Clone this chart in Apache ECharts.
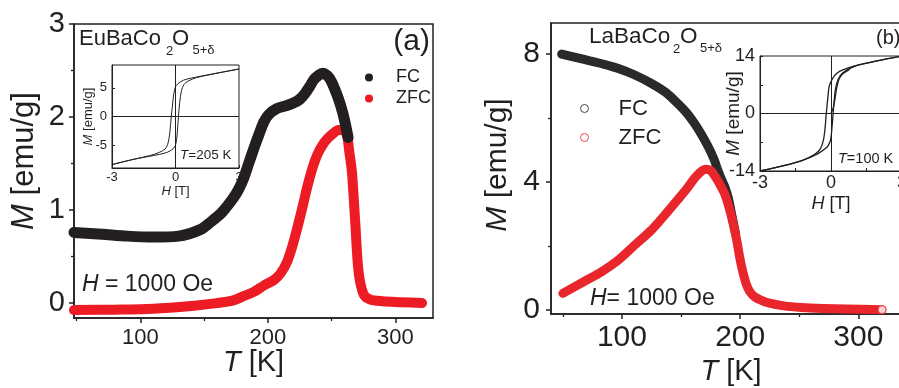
<!DOCTYPE html>
<html>
<head>
<meta charset="utf-8">
<script src="https://cdn.jsdelivr.net/npm/echarts@6/dist/echarts.min.js"></script>
<style>
html, body { margin: 0; padding: 0; background: #fff; }
#chart { width: 899px; height: 388px; }
</style>
</head>
<body>
<div id="chart"></div>
<script>
// panel (a) EuBaCo2O5+d, M(T) at H = 1000 Oe
const fcTa = [48, 70, 90, 110, 130, 147, 156, 163, 168, 173, 177, 181, 185, 189, 193, 197, 201, 207, 214, 220, 225, 229, 233, 236, 240, 243, 247, 250, 254, 257, 260, 263];
const fcMa = [0.76, 0.74, 0.72, 0.71, 0.72, 0.79, 0.88, 0.96, 1.04, 1.13, 1.22, 1.34, 1.5, 1.66, 1.81, 1.95, 2.03, 2.09, 2.12, 2.15, 2.19, 2.25, 2.33, 2.4, 2.45, 2.47, 2.44, 2.38, 2.25, 2.13, 1.98, 1.78];
const zfcTa = [48, 80, 110, 140, 160, 173, 182, 189, 197, 205, 210, 215, 219, 223, 227, 231, 235, 239, 243, 247, 251, 255.5, 259, 262, 264, 266, 268.6, 271.2, 275, 280, 290, 305, 321];
const zfcMa = [-0.075, -0.07, -0.06, -0.03, 0.0, 0.03, 0.08, 0.12, 0.19, 0.25, 0.32, 0.44, 0.6, 0.8, 1.02, 1.25, 1.45, 1.6, 1.7, 1.77, 1.82, 1.86, 1.86, 1.81, 1.62, 1.41, 0.87, 0.34, 0.1, 0.04, 0.02, 0.01, 0.0];
// inset (a): hysteresis at T = 205 K
const loopHa1 = [3, 2, 1, 0.5, 0.25, 0.1, 0, -0.08, -0.14, -0.2, -0.26, -0.35, -0.5, -1, -2, -3];
const loopMa1 = [8.3, 7.6, 6.9, 6.5, 6.1, 5.7, 5.2, 4.0, 2.0, 0, -2.5, -4.6, -5.7, -6.6, -7.5, -8.4];
const loopHa2 = [-3, -2, -1, -0.5, -0.25, -0.1, 0, 0.06, 0.1, 0.15, 0.2, 0.28, 0.4, 0.6, 1, 2, 3];
const loopMa2 = [-8.4, -7.5, -6.8, -6.4, -6.0, -5.6, -5.0, -3.8, -2.0, 0.5, 2.5, 4.5, 5.6, 6.2, 6.8, 7.6, 8.3];

// panel (b) LaBaCo2O5+d
const fcTb = [49, 68, 85, 97, 110, 125, 137, 147, 155, 161, 167, 173, 178, 181, 184, 187, 190, 193, 196];
const fcMb = [8.0, 7.83, 7.68, 7.55, 7.36, 7.08, 6.8, 6.46, 6.15, 5.85, 5.5, 5.1, 4.7, 4.38, 4.1, 3.85, 3.5, 2.95, 2.4];
const zfcTb = [50, 68, 83, 97, 110, 125, 137, 147, 155, 161, 166, 171, 175, 178, 182, 187, 191, 194, 197, 199.5, 202, 205, 208, 212, 218, 223, 237, 252, 270, 290, 320];
const zfcMb = [0.52, 0.89, 1.2, 1.56, 2.0, 2.5, 3.0, 3.44, 3.8, 4.1, 4.3, 4.4, 4.36, 4.22, 3.98, 3.62, 3.15, 2.71, 2.2, 1.67, 1.23, 0.83, 0.58, 0.42, 0.3, 0.23, 0.13, 0.08, 0.05, 0.03, 0.01];
// inset (b): T = 100 K, loop + virgin curve
const loopHb1 = [3, 2, 1, 0.5, 0.25, 0.1, 0, -0.08, -0.14, -0.2, -0.25, -0.32, -0.45, -0.7, -1.2, -2, -3];
const loopMb1 = [14, 12.9, 11.6, 10.6, 9.8, 8.8, 7.8, 6.5, 3.5, 0, -3.5, -6.5, -8.6, -10, -11.4, -12.7, -14];
const loopHb2 = [-3, -2, -1.2, -0.7, -0.45, -0.25, -0.12, -0.02, 0.04, 0.09, 0.14, 0.2, 0.3, 0.5, 1, 2, 3];
const loopMb2 = [-14, -12.7, -11.4, -10.2, -9.4, -8.6, -7.8, -6.5, -3.5, 0, 3.5, 6.3, 8.3, 9.9, 11.5, 12.9, 14];
const virHb = [0, 0.1, 0.18, 0.25, 0.35, 0.5, 0.8];
const virMb = [0, 1.5, 4, 6.5, 8.5, 9.7, 10.8];

// tick labels
const tTicks = [100, 200, 300], tMinor = [50, 150, 250];
const mTicksA = [0, 1, 2, 3], mMinorA = [0.5, 1.5, 2.5];
const mTicksB = [0, 4, 8], mMinorB = [2, 6];
const hTicks = [-3, 0, 3];
const insTicksA = [-5, 0, 5];
const insTicksB = [-14, 0, 14];

const FONT = "'Liberation Sans', Arial, Helvetica, sans-serif";
const INK = '#231f20';
const RED = '#ed1c24';

function zip(a, b) { return a.map((v, i) => [v, b[i]]); }

function axis(grid, min, max, pos, labels, o) {
  const fs = o.nameFs || 14;
  return {
    type: 'value', gridIndex: grid, min: min, max: max, position: pos,
    axisLine: { show: true, onZero: false, lineStyle: { color: INK, width: o.lw } },
    axisTick: { show: true, inside: !!o.inside, length: o.tl, customValues: o.ticks || labels, lineStyle: { color: INK, width: o.lw } },
    axisLabel: { show: true, customValues: labels, margin: o.margin, fontSize: o.fs, color: INK, fontFamily: FONT },
    splitLine: { show: false },
    name: o.name, nameLocation: 'middle', nameGap: o.nameGap, nameMoveOverlap: false,
    nameTextStyle: {
      fontSize: fs, fontFamily: FONT, color: INK, padding: o.namePad || 0,
      rich: { i: { fontStyle: 'italic', fontSize: fs, fontFamily: FONT, color: INK } }
    }
  };
}
function minor(grid, min, max, pos, values) {//only short ticks
  return {
    type: 'value', gridIndex: grid, min: min, max: max, position: pos,
    axisLine: { show: false, onZero: false }, axisLabel: { show: false }, splitLine: { show: false },
    axisTick: { show: true, length: 3, customValues: values, lineStyle: { color: INK, width: 1.3 } }
  };
}
function txt(x, y, text, fs, align) {
  return {
    type: 'text', x: x, y: y, silent: true,
    style: {
      text: text, fontSize: fs, fontFamily: FONT, fill: INK, align: align || 'left', verticalAlign: 'middle',
      rich: { i: { fontStyle: 'italic', fontSize: fs, fontFamily: FONT, fill: INK } }
    }
  };
}

const chart = echarts.init(document.getElementById('chart'));
const option = {
  animation: false,
  backgroundColor: '#fff',
  grid: [
    { left: 74, top: 24, width: 359, height: 294, show: true, borderColor: INK, borderWidth: 1.5, backgroundColor: 'transparent', outerBoundsMode: 'none' },
    { left: 112, top: 65, width: 127, height: 103, show: true, borderColor: INK, borderWidth: 1, backgroundColor: '#fff', outerBoundsMode: 'none' },
    { left: 551, top: 23, width: 360, height: 291, show: true, borderColor: INK, borderWidth: 1.5, backgroundColor: 'transparent', outerBoundsMode: 'none' },
    { left: 760, top: 56, width: 142, height: 115, show: true, borderColor: INK, borderWidth: 1, backgroundColor: '#fff', outerBoundsMode: 'none' }
  ],
  xAxis: [
    axis(0, 48, 329.6, 'bottom', tTicks, { lw: 1.5, tl: 5, margin: 9, fs: 22, name: '{i|T} [K]', nameGap: 30, nameFs: 29 }),
    minor(0, 48, 329.6, 'bottom', tMinor),
    axis(1, -3, 3, 'bottom', hTicks, { lw: 1, tl: 3, inside: true, margin: 3, fs: 13, name: '{i|H} [T]', nameGap: 17, nameFs: 13 }),
    axis(2, 40, 344.5, 'bottom', tTicks, { lw: 1.5, tl: 5, margin: 9, fs: 30, name: '{i|T} [K]', nameGap: 43, nameFs: 29 }),
    minor(2, 40, 344.5, 'bottom', tMinor),
    axis(3, -3, 3, 'bottom', hTicks, { lw: 1, tl: 3, inside: true, margin: 3, fs: 18, ticks: [-3, -1.5, 0, 1.5, 3], name: '{i|H} [T]', nameGap: 24, nameFs: 18 })
  ],
  yAxis: [
    axis(0, -0.16, 3, 'left', mTicksA, { lw: 1.5, tl: 5, margin: 9, fs: 29, name: '{i|M} [emu/g]', nameGap: 34, nameFs: 31, namePad: [0, 0, 0, 20] }),
    minor(0, -0.16, 3, 'left', mMinorA),
    axis(1, -9, 9, 'left', insTicksA, { lw: 1, tl: 3, inside: true, margin: 5, fs: 13, name: '{i|M} [emu/g]', nameGap: 17, nameFs: 13 }),
    axis(2, -0.125, 8.97, 'left', mTicksB, { lw: 1.5, tl: 5, margin: 11, fs: 30, name: '{i|M} [emu/g]', nameGap: 38, nameFs: 30, namePad: [0, 0, 0, 7] }),
    minor(2, -0.125, 8.97, 'left', mMinorB),
    axis(3, -14, 14, 'left', insTicksB, { lw: 1, tl: 3, inside: true, margin: 5, fs: 18, ticks: [-14, -7, 0, 7, 14], name: '{i|M} [emu/g]', nameGap: 17, nameFs: 19 })
  ],
  legend: [
    {
      orient: 'vertical', left: 360, top: 63.5, itemWidth: 8, itemHeight: 8, itemGap: 3, selectedMode: false,
      formatter: n => n.split('_')[0],
      textStyle: { fontSize: 18, fontFamily: FONT, color: INK, padding: [0, 0, 0, 18] },
      data: [
        { name: 'FC_a', icon: 'circle', itemStyle: { color: INK, borderWidth: 0 } },
        { name: 'ZFC_a', icon: 'circle', itemStyle: { color: RED, borderWidth: 0 } }
      ]
    },
    {
      orient: 'vertical', left: 575, top: 92.5, itemWidth: 8, itemHeight: 8, itemGap: 7, selectedMode: false,
      formatter: n => n.split('_')[0],
      textStyle: { fontSize: 22, fontFamily: FONT, color: INK, padding: [0, 0, 0, 25] },
      data: [
        { name: 'FC_b', icon: 'circle', itemStyle: { color: '#fff', borderColor: '#444', borderWidth: 1 } },
        { name: 'ZFC_b', icon: 'circle', itemStyle: { color: '#fff', borderColor: '#f0464b', borderWidth: 1 } }
      ]
    }
  ],
  series: [
    {
      name: 'ZFC_a', type: 'line', xAxisIndex: 0, yAxisIndex: 0, z: 2, data: zip(zfcTa, zfcMa),
      showSymbol: false, smooth: 0.3, color: RED, itemStyle: { color: RED },
      lineStyle: { color: RED, width: 10, cap: 'round', join: 'round' }
    },
    {
      name: 'FC_a', type: 'line', xAxisIndex: 0, yAxisIndex: 0, z: 3, data: zip(fcTa, fcMa),
      showSymbol: false, smooth: 0.3, color: INK, itemStyle: { color: INK },
      lineStyle: { color: INK, width: 11, cap: 'round', join: 'round' }
    },
    {
      type: 'line', xAxisIndex: 2, yAxisIndex: 2, data: zip(loopHa1, loopMa1), showSymbol: false, smooth: 0.3,
      lineStyle: { color: INK, width: 1 },
      markLine: { silent: true, symbol: ['none', 'none'], label: { show: false }, lineStyle: { color: INK, width: 1, type: 'solid' }, data: [{ xAxis: 0 }, { yAxis: 0 }] }
    },
    { type: 'line', xAxisIndex: 2, yAxisIndex: 2, data: zip(loopHa2, loopMa2), showSymbol: false, smooth: 0.3, lineStyle: { color: INK, width: 1 } },
    {
      name: 'FC_b', type: 'line', xAxisIndex: 3, yAxisIndex: 3, z: 2, data: zip(fcTb, fcMb),
      showSymbol: false, smooth: 0.3, color: '#2b2a2a', itemStyle: { color: '#2b2a2a' },
      lineStyle: { color: '#2b2a2a', width: 9, cap: 'round', join: 'round' }
    },
    {
      name: 'ZFC_b', type: 'line', xAxisIndex: 3, yAxisIndex: 3, z: 3, data: zip(zfcTb, zfcMb),
      showSymbol: false, smooth: 0.3, color: '#e8262c', itemStyle: { color: '#e8262c' },
      lineStyle: { color: '#e8262c', width: 9, cap: 'round', join: 'round' }
    },
    {
      type: 'scatter', xAxisIndex: 3, yAxisIndex: 3, z: 4, symbolSize: 8,
      data: [[zfcTb[zfcTb.length - 1], zfcMb[zfcMb.length - 1]]],
      itemStyle: { color: '#fff', borderColor: '#e8262c', borderWidth: 1 }
    },
    {
      type: 'line', xAxisIndex: 5, yAxisIndex: 5, data: zip(loopHb1, loopMb1), showSymbol: false, smooth: 0.3,
      lineStyle: { color: INK, width: 1.3 },
      markLine: { silent: true, symbol: ['none', 'none'], label: { show: false }, lineStyle: { color: INK, width: 1, type: 'solid' }, data: [{ xAxis: 0 }, { yAxis: 0 }] }
    },
    { type: 'line', xAxisIndex: 5, yAxisIndex: 5, data: zip(loopHb2, loopMb2), showSymbol: false, smooth: 0.3, lineStyle: { color: INK, width: 1.3 } },
    { type: 'line', xAxisIndex: 5, yAxisIndex: 5, data: zip(virHb, virMb), showSymbol: false, smooth: 0.3, lineStyle: { color: INK, width: 1.3 } }
  ],
  graphic: [
    txt(79, 38.7, 'EuBaCo', 22), txt(166, 51, '2', 13), txt(172, 38.7, 'O', 22), txt(192.5, 50, '5+δ', 13),
    txt(430, 41.5, '(a)', 30, 'right'),
    txt(82, 285, '{i|H} = 1000 Oe', 23),
    txt(180, 155, '{i|T}=205 K', 13.5),
    txt(589, 37, 'LaBaCo', 22.5), txt(673, 49.5, '2', 13), txt(680, 37, 'O', 22.5), txt(700, 48.5, '5+δ', 13),
    txt(876, 38, '(b)', 20),
    txt(590, 298.5, '{i|H}= 1000 Oe', 23),
    txt(838, 159, '{i|T}=100 K', 14.5)
  ]
};
chart.setOption(option);
</script>
</body>
</html>
